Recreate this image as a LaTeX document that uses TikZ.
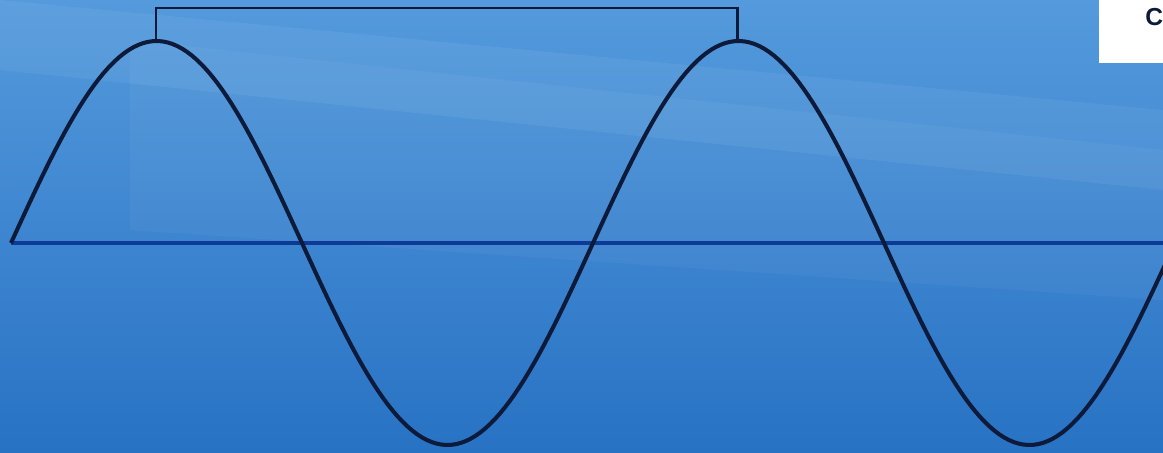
\documentclass[tikz,border=0pt]{standalone}
\usepackage{fontspec}
\setmainfont{Liberation Sans}
\usetikzlibrary{positioning}

\definecolor{bgtop}{RGB}{84,154,220}
\definecolor{bgbot}{RGB}{40,114,196}
\definecolor{wavecol}{RGB}{14,26,58}
\definecolor{axiscol}{RGB}{12,58,150}

\begin{document}
\begin{tikzpicture}[x=0.02cm, y=-0.02cm,
  wave/.style={draw=wavecol, line width=2.3pt, line join=round},
  axisline/.style={draw=axiscol, line width=1.9pt},
  brace/.style={draw=wavecol, line width=1.7pt},
  labelbox/.style={fill=white, draw=none}]
\useasboundingbox (0,0) rectangle (1163,453);
\clip (0,0) rectangle (1163,453);
% background
\shade[top color=bgtop, bottom color=bgbot] (0,0) rectangle (1163,453);
\fill[white, opacity=0.06] (0,0) -- (1163,110) -- (1163,190) -- (0,70) -- cycle;
\fill[white, opacity=0.04] (130,40) -- (1163,150) -- (1163,300) -- (130,230) -- cycle;
% label box
\fill[labelbox] (1099,0) rectangle (1163,63);
\node[anchor=west, inner sep=0pt, font=\bfseries\fontsize{14}{16}\selectfont, text=wavecol] (lbl) at (1145,17) {C};
% axis
\coordinate (origin) at (11,243);
\coordinate (axisend) at (1163,243);
\draw[axisline] (origin) -- (axisend);
% wave
\draw[wave] plot[domain=11:1180, samples=240] (\x, {243 - 202*sin((\x-11)/582*360)});
% bracket between two peaks
\coordinate (peakA) at (156,40);
\coordinate (peakB) at (737,40);
\draw[brace] (peakA) -- ++(0,-32) -| (peakB);
\end{tikzpicture}
\end{document}
